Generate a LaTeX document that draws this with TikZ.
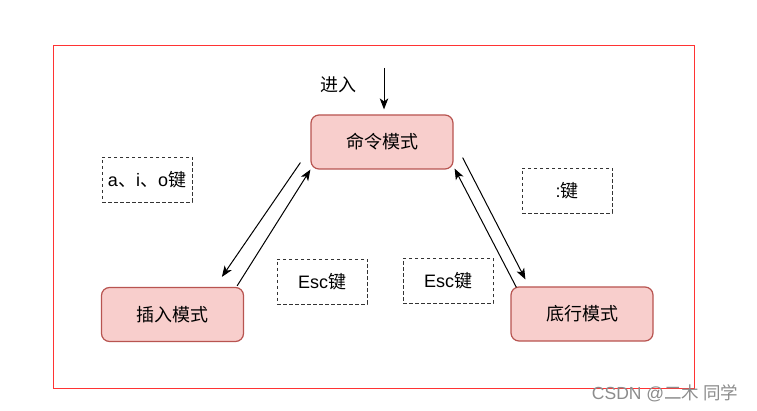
\documentclass[tikz,border=0pt]{standalone}
\usepackage{fontspec}
\setmainfont{Liberation Sans}
\newfontfamily\cjk{Noto Sans CJK SC}
\usetikzlibrary{arrows.meta}
\definecolor{modefill}{HTML}{F8CECC}
\definecolor{modedraw}{HTML}{B85450}
\definecolor{frame}{HTML}{FF3333}
\tikzset{
  modebox/.style={draw=modedraw, fill=modefill, line width=1.2pt, rounded corners=8pt,
    minimum width=142pt, minimum height=54pt, inner sep=0pt,
    font=\fontsize{18}{21}\selectfont\cjk},
  keybox/.style={draw=black!80, line width=0.9pt, dash pattern=on 3.5pt off 2.5pt,
    minimum width=90pt, minimum height=45pt, inner sep=0pt,
    font=\fontsize{18}{21}\selectfont},
  arr/.style={draw=black, line width=1pt, -{Stealth[length=11pt,width=8.5pt,inset=3pt]}},
  lbl/.style={font=\fontsize{18}{21}\selectfont\cjk, inner sep=0pt},
  wm/.style={font=\fontsize{17.5}{20}\selectfont, text=black!45, inner sep=0pt}
}
\begin{document}
\begin{tikzpicture}[x=1pt,y=-1pt]
\useasboundingbox (0,0) rectangle (757,411);
\fill[white] (0,0) rectangle (757,411);
\draw[frame, line width=1pt] (53,46) rectangle (694,388);

\node[modebox] (cmd) at (382,142) {命令模式};
\node[modebox] (ins) at (172.5,314.5) {插入模式};
\node[modebox] (bot) at (582,314) {底行模式};

\node[keybox] (kaio) at (147,179.5) {a{\cjk 、}i{\cjk 、}o{\cjk 键}};
\node[keybox] (kesc1) at (322,281.5) {Esc{\cjk 键}};
\node[keybox] (kesc2) at (448,281) {Esc{\cjk 键}};
\node[keybox] (kcolon) at (567,190.5) {:{\cjk 键}};

\node[lbl] (enter) at (338,85) {进入};
\coordinate (entrystart) at (384,68);
\draw[arr] (entrystart) -- ([shift={(2,-5)}]cmd.north);

\draw[arr] ([shift={(-10,-7)}]cmd.south west) -- ([shift={(121,-10)}]ins.north west);
\draw[arr] ([shift={(-7,-1)}]ins.north east) -- (cmd.south west);

\draw[arr] ([shift={(9,-12)}]cmd.south east) -- ([shift={(15,-7)}]bot.north west);
\draw[arr] ([shift={(6,1)}]bot.north west) -- ([shift={(1,-1)}]cmd.south east);

\node[wm] (mark) at (665,393) {CSDN @{\cjk 二木 同学}};
\end{tikzpicture}
\end{document}
